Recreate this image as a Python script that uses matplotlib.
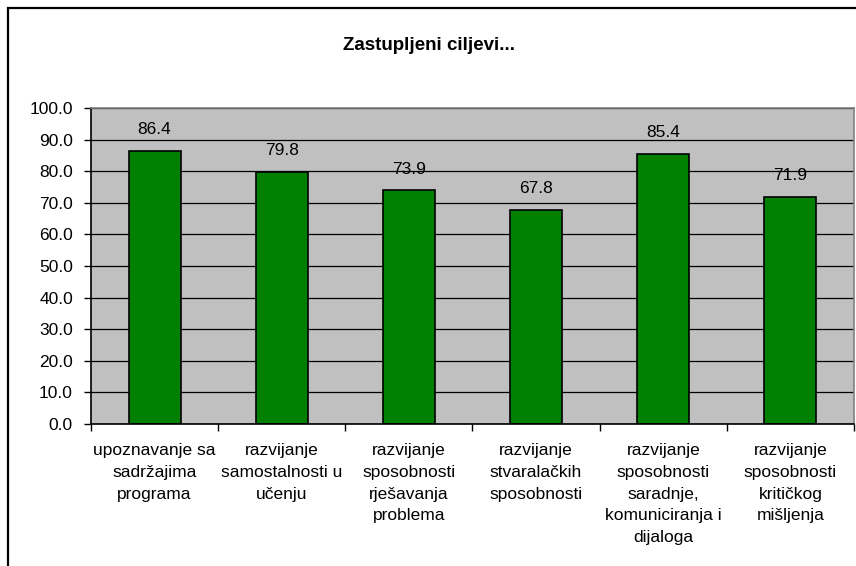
import numpy as np
import matplotlib
matplotlib.use("Agg")
import matplotlib.pyplot as plt
from matplotlib.patches import Rectangle

plt.rcParams['font.family'] = ['Liberation Sans', 'DejaVu Sans']

# data
categories = ["upoznavanje sa\nsadržajima\nprograma",
              "razvijanje\nsamostalnosti u\nučenju",
              "razvijanje\nsposobnosti\nrješavanja\nproblema",
              "razvijanje\nstvaralačkih\nsposobnosti",
              "razvijanje\nsposobnosti\nsaradnje,\nkomuniciranja i\ndijaloga",
              "razvijanje\nsposobnosti\nkritičkog\nmišljenja"]
values = [86.4, 79.8, 73.9, 67.8, 85.4, 71.9]
yticks = np.arange(0, 101, 10)

fig = plt.figure(figsize=(8.56, 5.66), dpi=100)
ax = fig.add_axes([91/856, 1 - 424/566, (854 - 91)/856, (424 - 108)/566])

# outer chart border (only top/left visible in the crop)
fig.patches.append(Rectangle((8/856, -0.1), 1.2, 1 - 8/566 + 0.1,
                             transform=fig.transFigure, fill=False,
                             edgecolor='black', lw=1.6, clip_on=False))

ax.set_facecolor('#C0C0C0')
x = np.arange(len(values))
bars = ax.bar(x, values, width=0.41, color='#008000', edgecolor='black',
              linewidth=1.2, zorder=3)

for xi, v in zip(x, values):
    ax.annotate(f"{v:.1f}", (xi, v), xytext=(0, 10), textcoords='offset points',
                ha='center', va='bottom', fontsize=12.5)

ax.set_ylim(0, 100)
ax.set_xlim(-0.5, len(values) - 0.5)
ax.set_yticks(yticks)
ax.set_yticklabels([f"{t:.1f}" for t in yticks], fontsize=12.5)
ax.grid(axis='y', color='black', lw=0.9)
ax.set_axisbelow(True)

ax.set_xticks(x)
ax.set_xticklabels(categories, fontsize=12.5, linespacing=1.55, va='top')
ax.set_xticks(np.arange(-0.5, len(values)), minor=True)
ax.tick_params(axis='x', which='major', length=0, pad=14)
ax.tick_params(axis='x', which='minor', length=5, width=1, color='black')
ax.tick_params(axis='y', length=5, width=1, pad=8)

for s in ['top', 'right']:
    ax.spines[s].set_color('#808080')
    ax.spines[s].set_linewidth(1.2)
    ax.spines[s].set_zorder(4)
for s in ['left', 'bottom']:
    ax.spines[s].set_color('black')
    ax.spines[s].set_linewidth(1.2)
    ax.spines[s].set_zorder(4)

fig.text(429/856, 1 - 46/566, "Zastupljeni ciljevi...", ha='center', va='center',
         fontsize=13.5, fontweight='bold')

fig.savefig("out.png", dpi=100)
